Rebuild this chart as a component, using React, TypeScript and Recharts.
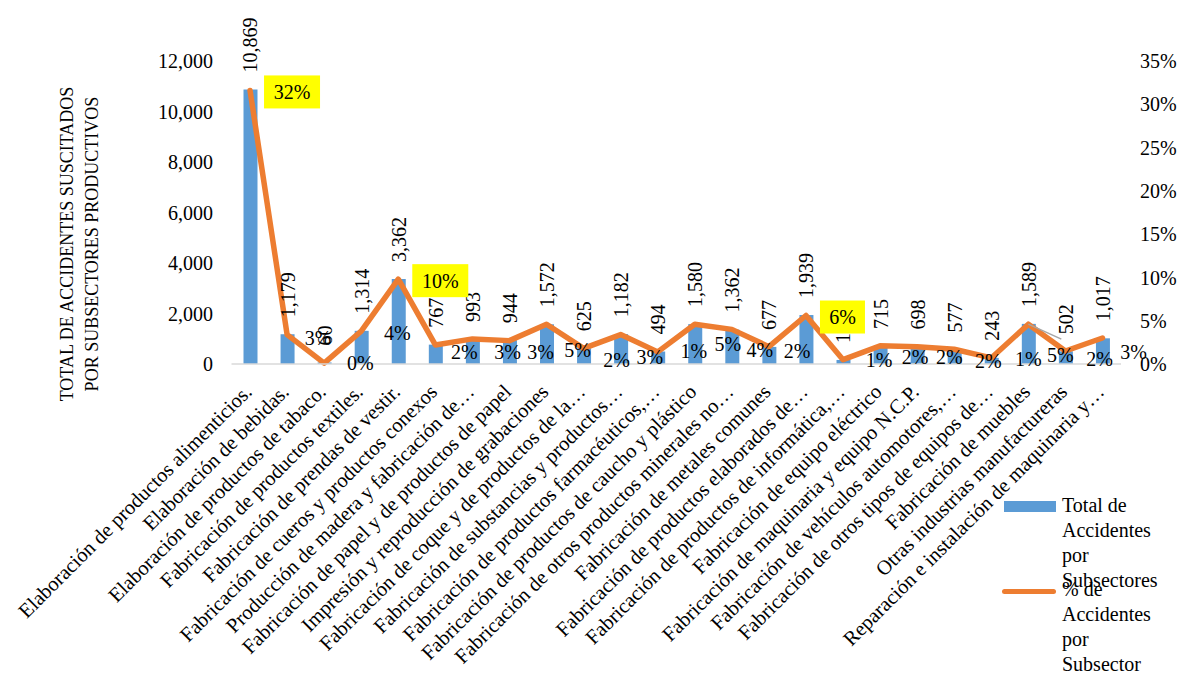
import { Bar, ComposedChart, LabelList, Line, XAxis, YAxis } from "recharts";

const subsectors = [
  "Elaboración de productos alimenticios.",
  "Elaboración de bebidas.",
  "Elaboración de productos de tabaco.",
  "Fabricación de productos textiles.",
  "Fabricación de prendas de vestir.",
  "Fabricación de cueros y productos conexos",
  "Producción de madera y fabricación de…",
  "Fabricación de papel y de productos de papel",
  "Impresión y reproducción de grabaciones",
  "Fabricación de coque y de productos de la…",
  "Fabricación de substancias y productos…",
  "Fabricación de productos farmacéuticos,…",
  "Fabricación de productos de caucho y plástico",
  "Fabricación de otros productos minerales no…",
  "Fabricación de metales comunes",
  "Fabricación de productos elaborados de…",
  "Fabricación de productos de informática,…",
  "Fabricación de equipo eléctrico",
  "Fabricación de maquinaria y equipo N.C.P.",
  "Fabricación de vehículos automotores,…",
  "Fabricación de otros tipos de equipos de…",
  "Fabricación de muebles",
  "Otras industrias manufactureras",
  "Reparación e instalación de maquinaria y…",
];

const totalAccidents = [
  10869, 1179, 60, 1314, 3362, 767, 993, 944, 1572, 625, 1182, 494, 1580,
  1362, 677, 1939, 160, 715, 698, 577, 243, 1589, 502, 1017,
];

const pctAccidents = [
  31.6, 3.4, 0.1, 3.8, 9.8, 2.2, 2.9, 2.7, 4.6, 1.8, 3.4, 1.4, 4.6, 4.0, 2.0,
  5.6, 0.5, 2.1, 2.0, 1.7, 0.7, 4.6, 1.5, 3.0,
];

const leftTicks = [0, 2000, 4000, 6000, 8000, 10000, 12000];
const rightTicks = [0, 5, 10, 15, 20, 25, 30, 35];

// labels Excel put in yellow boxes
const highlighted = [0, 4, 15];

// where the other % labels ended up: [shift from next category, lift above axis]
const pctLabelSpot: [number, number][] = [
  [0, 0], [-6, 26], [-1, 1], [-1, 31], [0, 0], [-8, 12], [-2, 12], [-6, 12],
  [-6, 14], [-4, 4], [-8, 7], [-1, 13], [-4, 20], [-9, 14], [-9, 13], [0, 0],
  [-1, 4], [-2, 7], [-5, 7], [-3, 3], [0, 5], [-5, 9], [-3, 5], [-6, 12],
];

// grey leader line drawn by Excel for a moved label
const leaders: Record<number, [number, number]> = { 21: [33, 15] };

const data = subsectors.map((name, i) => ({
  name,
  total: totalAccidents[i],
  pct: pctAccidents[i],
}));

const FONT = '"Liberation Serif", "Times New Roman", serif';
const PLOT_LEFT = 231.5;
const PLOT_RIGHT = 1121;
const BASE_Y = 364;
const BAND = (PLOT_RIGHT - PLOT_LEFT) / subsectors.length;

function CategoryTick({ x, y, payload }: any) {
  const ax = x + 3;
  const ay = y + 29;
  return (
    <text
      x={ax}
      y={ay}
      transform={`rotate(-45, ${ax}, ${ay})`}
      textAnchor="end"
      fontFamily={FONT}
      fontSize={20.5}
      fill="#000"
    >
      {payload.value}
    </text>
  );
}

function TotalLabel({ x, y, width, value }: any) {
  const lx = x + width / 2 + 7;
  const ly = y - 17;
  return (
    <text
      x={lx}
      y={ly}
      transform={`rotate(-90, ${lx}, ${ly})`}
      textAnchor="start"
      fontFamily={FONT}
      fontSize={20}
      fill="#000"
    >
      {Number(value).toLocaleString("en-US")}
    </text>
  );
}

function PctLabel({ x, y, value, index }: any) {
  const text = `${Math.round(value)}%`;
  if (highlighted.includes(index)) {
    const w = text.length > 2 ? 56 : 45;
    return (
      <g>
        <rect x={x + 14} y={y - 15} width={w} height={33} fill="#FFFF00" />
        <text
          x={x + 14 + w / 2}
          y={y + 1.5}
          dy="0.35em"
          textAnchor="middle"
          fontFamily={FONT}
          fontSize={20}
          fill="#000"
        >
          {text}
        </text>
      </g>
    );
  }
  const [dx, lift] = pctLabelSpot[index];
  const lead = leaders[index];
  return (
    <g>
      {lead && (
        <line x1={x} y1={y} x2={x + lead[0]} y2={y + lead[1]} stroke="#A6A6A6" strokeWidth={1.5} />
      )}
      <text
        x={x + BAND + dx}
        y={BASE_Y - lift}
        dy="0.35em"
        textAnchor="middle"
        fontFamily={FONT}
        fontSize={20}
        fill="#000"
      >
        {text}
      </text>
    </g>
  );
}

function AxisTitle() {
  return (
    <g fontFamily={FONT} fontSize={18} fill="#000">
      <text x={73} y={244} transform="rotate(-90, 73, 244)" textAnchor="middle">
        TOTAL DE ACCIDENTES SUSCITADOS
      </text>
      <text x={98} y={244} transform="rotate(-90, 98, 244)" textAnchor="middle">
        POR SUBSECTORES PRODUCTIVOS
      </text>
    </g>
  );
}

const legendText: React.CSSProperties = {
  position: "absolute",
  left: 1062,
  fontFamily: FONT,
  fontSize: 20,
  lineHeight: "25px",
  color: "#000",
};

export default function App() {
  return (
    <div style={{ position: "fixed", left: 0, top: 0, width: 1180, height: 673, background: "#fff", overflow: "hidden" }}>
      <ComposedChart
        width={1180}
        height={673}
        data={data}
        margin={{ top: 61, right: 0, bottom: 0, left: 0 }}
      >
        <XAxis
          dataKey="name"
          interval={0}
          height={309}
          tickSize={0}
          tickMargin={0}
          tickLine={false}
          axisLine={{ stroke: "#D9D9D9", strokeWidth: 1.5 }}
          tick={<CategoryTick />}
        />
        <YAxis
          yAxisId="left"
          width={PLOT_LEFT}
          domain={[0, 12000]}
          ticks={leftTicks}
          tickFormatter={(v: number) => v.toLocaleString("en-US")}
          axisLine={false}
          tickLine={false}
          tickSize={0}
          tickMargin={18.5}
          tick={{ fontFamily: FONT, fontSize: 20, fill: "#000" }}
          label={<AxisTitle />}
        />
        <YAxis
          yAxisId="right"
          orientation="right"
          width={1180 - PLOT_RIGHT}
          domain={[0, 35]}
          ticks={rightTicks}
          tickFormatter={(v: number) => `${v}%`}
          axisLine={false}
          tickLine={false}
          tickSize={0}
          tickMargin={19}
          tick={{ fontFamily: FONT, fontSize: 20, fill: "#000", textAnchor: "start" }}
        />
        <Bar
          yAxisId="left"
          dataKey="total"
          fill="#5B9BD5"
          barSize={14}
          isAnimationActive={false}
        >
          <LabelList dataKey="total" content={<TotalLabel />} />
        </Bar>
        <Line
          yAxisId="right"
          type="linear"
          dataKey="pct"
          stroke="#ED7D31"
          strokeWidth={5.5}
          strokeLinejoin="round"
          strokeLinecap="round"
          dot={false}
          isAnimationActive={false}
        >
          <LabelList dataKey="pct" content={<PctLabel />} />
        </Line>
      </ComposedChart>

      <div style={{ position: "absolute", left: 1004, top: 501, width: 52, height: 11, background: "#5B9BD5" }} />
      <div style={{ ...legendText, top: 493 }}>
        Total de<br />Accidentes<br />por<br />Subsectores
      </div>
      <div style={{ position: "absolute", left: 1002, top: 589, width: 54, height: 5, borderRadius: 3, background: "#ED7D31" }} />
      <div style={{ ...legendText, top: 577 }}>
        % de<br />Accidentes<br />por<br />Subsector
      </div>
    </div>
  );
}
